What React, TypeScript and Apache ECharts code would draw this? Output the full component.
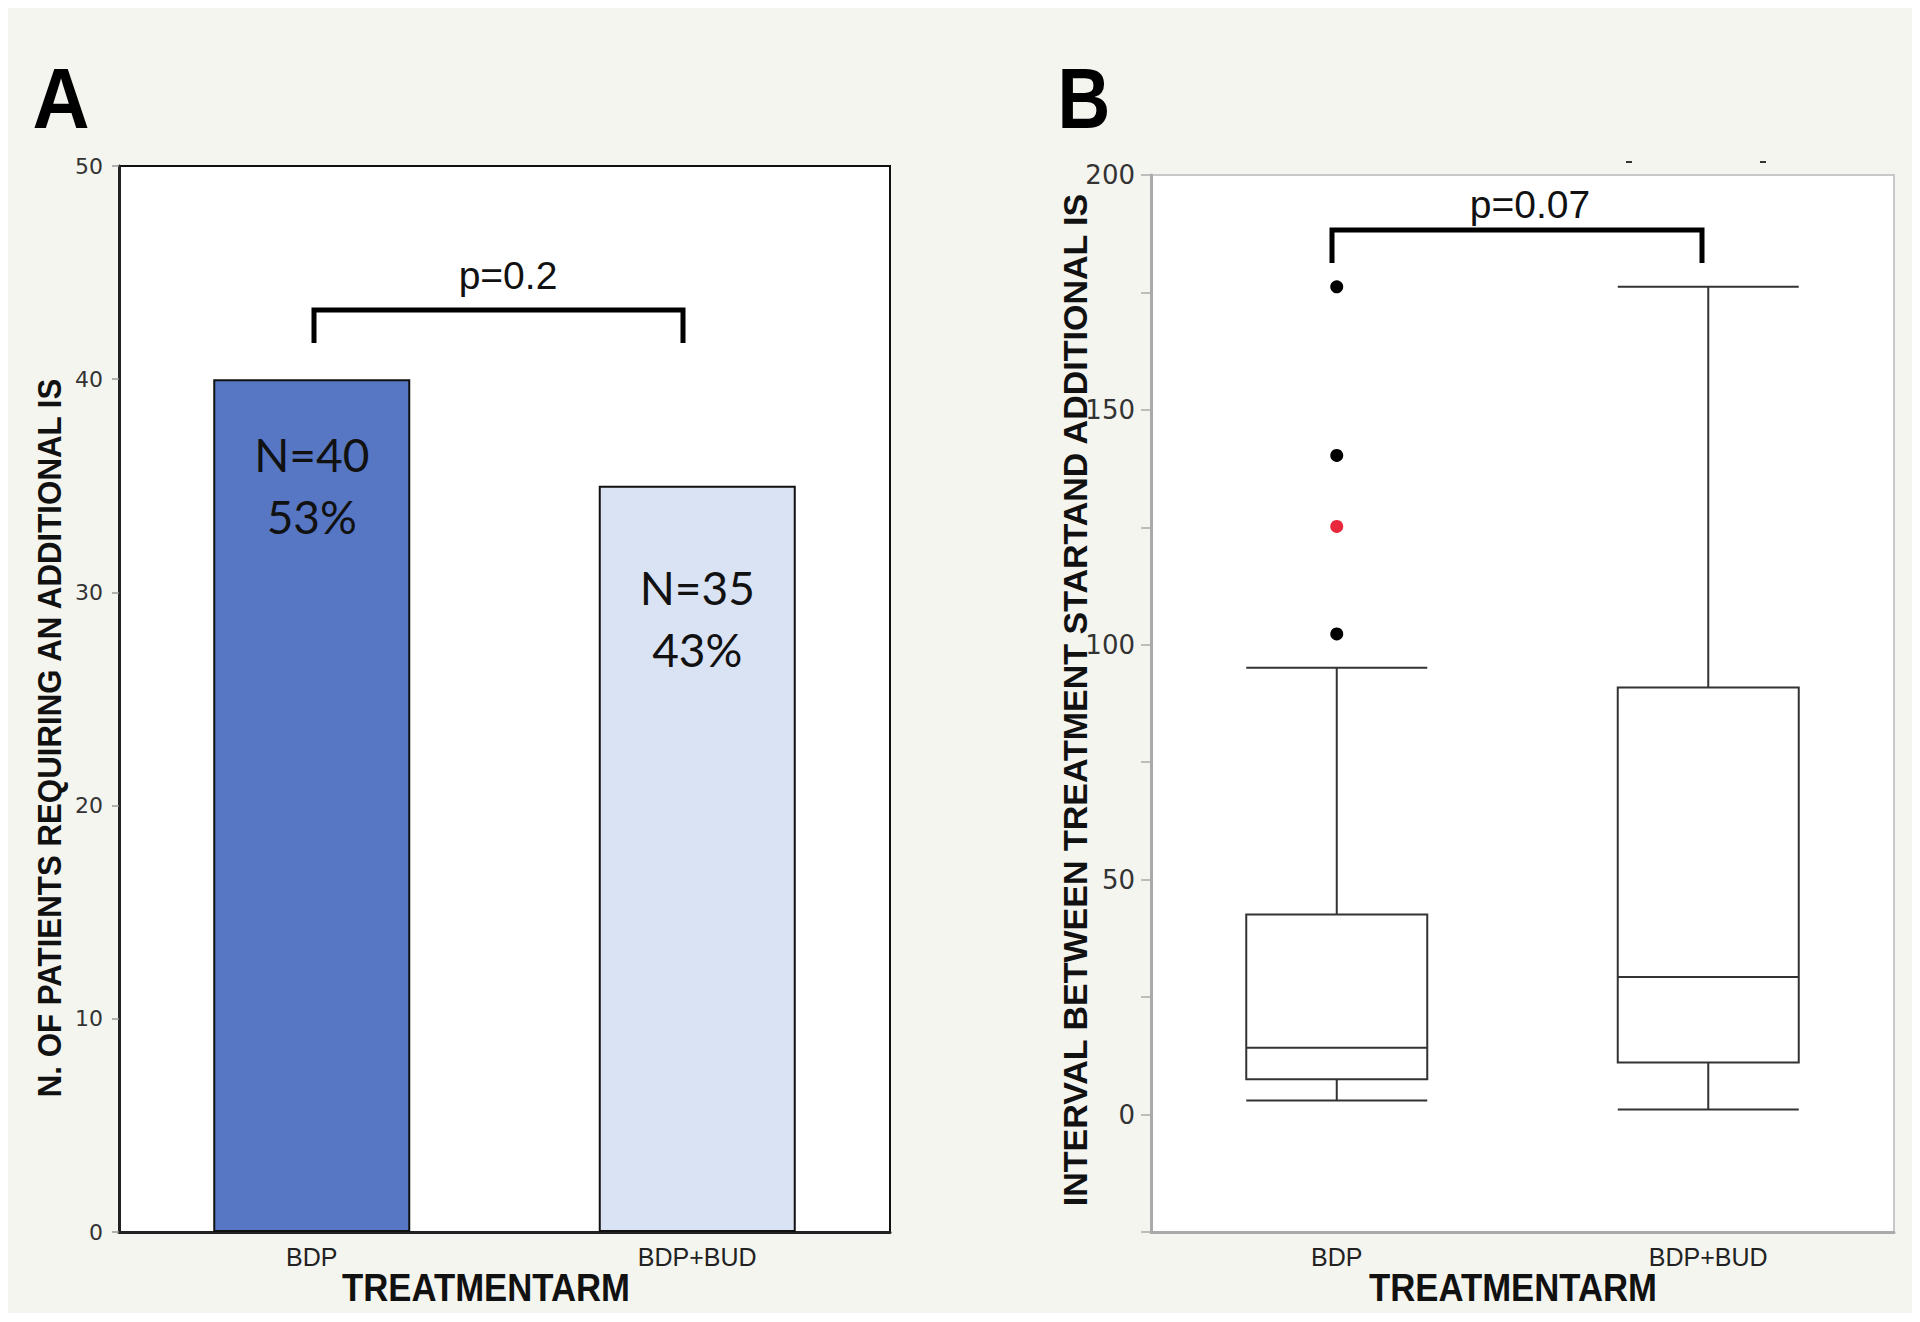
import React, { useEffect, useRef } from "react";
import * as echarts from "echarts";

const categories = ["BDP", "BDP+BUD"];
const patientCounts = [40, 35];
const patientPercents = [53, 43];
const barColors = ["#5777C4", "#DAE3F3"];
const barLabelDistance = [44, 71];

// box stats: [min, Q1, median, Q3, max]
const boxStats = [
  [3.0, 7.5, 14.2, 42.6, 95.1],
  [1.1, 11.1, 29.3, 90.9, 176.2],
];
const bdpOutliers = [176.2, 140.3, 125.2, 102.3];
const outlierColors = ["#000", "#000", "#E8283C", "#000"];

const pValues = ["p=0.2", "p=0.07"];
const yTitleA = "N. OF PATIENTS REQUIRING AN ADDITIONAL IS";
const yTitleB = "INTERVAL BETWEEN TREATMENT STARTAND ADDITIONAL IS";
const xTitle = "TREATMENTARM";

const SANS = "'Liberation Sans', Arial, sans-serif";
const TICKFONT = "'DejaVu Sans', sans-serif";

export default function App() {
  const ref = useRef<HTMLDivElement>(null);
  useEffect(() => {
    if (!ref.current) return;
    const chart = echarts.init(ref.current, undefined, { renderer: "svg" });
    const bracket = (x1: number, x2: number, yTop: number, yBot: number) => ({
      type: "polyline",
      shape: { points: [[x1, yBot], [x1, yTop], [x2, yTop], [x2, yBot]] },
      style: { stroke: "#000", lineWidth: 5, fill: null },
      z: 10,
    });
    const option: any = {
      animation: false,
      backgroundColor: "#F5F5F0",
      grid: [
        { left: 111, top: 158, right: 1022, bottom: 81, show: true, backgroundColor: "#fff", borderColor: "#111", borderWidth: 2 },
        { left: 1143, top: 167, right: 18, bottom: 81, show: true, backgroundColor: "#fff", borderColor: "#C8C8C8", borderWidth: 2 },
      ],
      xAxis: [
        {
          type: "category", gridIndex: 0, data: categories,
          axisLine: { onZero: false, lineStyle: { color: "#222", width: 3 } },
          axisTick: { show: false },
          axisLabel: { color: "#222", fontFamily: SANS, fontSize: 25, margin: 12 },
        },
        {
          type: "category", gridIndex: 1, data: categories,
          axisLine: { onZero: false, lineStyle: { color: "#AAAAAA", width: 3 } },
          axisTick: { show: false },
          axisLabel: { color: "#222", fontFamily: SANS, fontSize: 25, margin: 12 },
        },
      ],
      yAxis: [
        {
          type: "value", gridIndex: 0, min: 0, max: 50, interval: 10,
          axisLine: { show: true, lineStyle: { color: "#222", width: 3 } },
          axisTick: { show: true, length: 7, lineStyle: { color: "#999", width: 1.5 } },
          splitLine: { show: false },
          axisLabel: { color: "#333", fontFamily: TICKFONT, fontSize: 22, margin: 16 },
        },
        {
          type: "value", gridIndex: 1, min: -25, max: 200, interval: 25,
          axisLine: { show: true, lineStyle: { color: "#AAAAAA", width: 3 } },
          axisTick: { show: true, length: 10, lineStyle: { color: "#AAAAAA", width: 1.5 } },
          splitLine: { show: false },
          axisLabel: {
            color: "#333", fontFamily: TICKFONT, fontSize: 26, margin: 16,
            formatter: (v: number) => (v >= 0 && v % 50 === 0 ? String(v) : ""),
          },
        },
      ],
      series: [
        {
          type: "bar", xAxisIndex: 0, yAxisIndex: 0, barWidth: 197,
          data: patientCounts.map((v, i) => ({
            value: v,
            itemStyle: { color: barColors[i], borderColor: "#111", borderWidth: 2 },
            label: {
              show: true, position: "insideTop", distance: barLabelDistance[i],
              formatter: `N=${v}\n${patientPercents[i]}%`,
              fontFamily: "Lato, 'Open Sans', sans-serif", fontSize: 46, lineHeight: 62, color: "#111",
            },
          })),
        },
        {
          type: "boxplot", xAxisIndex: 1, yAxisIndex: 1, boxWidth: [181, 181],
          data: boxStats,
          itemStyle: { color: "#fff", borderColor: "#333", borderWidth: 2 },
        },
        {
          type: "scatter", xAxisIndex: 1, yAxisIndex: 1, symbolSize: 13,
          data: bdpOutliers.map((v, i) => ({ value: [categories[0], v], itemStyle: { color: outlierColors[i], opacity: 1 } })),
        },
      ],
      graphic: [
        { type: "text", x: 53, y: 90, scaleX: 0.92, style: { text: "A", font: `bold 86px ${SANS}`, fill: "#000", align: "center", verticalAlign: "middle" } },
        { type: "text", x: 1076, y: 90, scaleX: 0.85, style: { text: "B", font: `bold 86px ${SANS}`, fill: "#000", align: "center", verticalAlign: "middle" } },
        { type: "text", x: 41, y: 730, rotation: Math.PI / 2, scaleX: 0.92, style: { text: yTitleA, font: `bold 34px ${SANS}`, fill: "#111", align: "center", verticalAlign: "middle" } },
        { type: "text", x: 1067, y: 692, rotation: Math.PI / 2, style: { text: yTitleB, font: `bold 34px ${SANS}`, fill: "#111", align: "center", verticalAlign: "middle" } },
        { type: "text", x: 478, y: 1280, scaleX: 0.89, style: { text: xTitle, font: `bold 39px ${SANS}`, fill: "#111", align: "center", verticalAlign: "middle" } },
        { type: "text", x: 1505, y: 1280, scaleX: 0.89, style: { text: xTitle, font: `bold 39px ${SANS}`, fill: "#111", align: "center", verticalAlign: "middle" } },
        bracket(306, 675, 302, 335),
        { type: "text", x: 500, y: 267, z: 10, style: { text: pValues[0], font: `39px ${SANS}`, fill: "#111", align: "center", verticalAlign: "middle" } },
        bracket(1324, 1694, 222, 255),
        { type: "text", x: 1522, y: 196, z: 10, style: { text: pValues[1], font: `39px ${SANS}`, fill: "#111", align: "center", verticalAlign: "middle" } },
        { type: "line", shape: { x1: 1618, y1: 154, x2: 1624, y2: 154 }, style: { stroke: "#333", lineWidth: 2 } },
        { type: "line", shape: { x1: 1752, y1: 154, x2: 1758, y2: 154 }, style: { stroke: "#333", lineWidth: 2 } },
      ],
    };
    chart.setOption(option);
    return () => chart.dispose();
  }, []);
  return <div ref={ref} style={{ width: 1904, height: 1305 }} />;
}
